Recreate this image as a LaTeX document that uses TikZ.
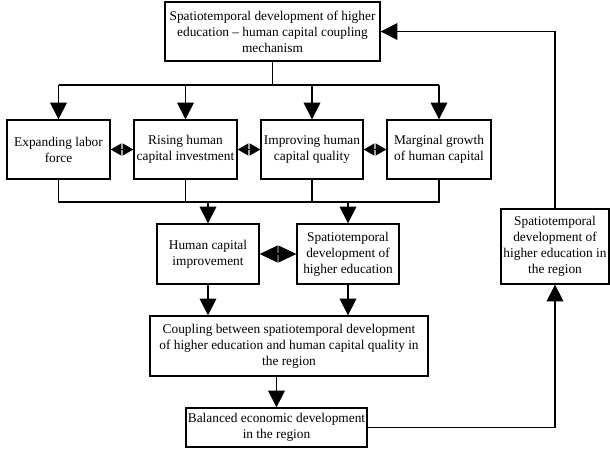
\documentclass[tikz,border=0pt]{standalone}
\usepackage{fontspec}
\setmainfont{Liberation Serif}
\usetikzlibrary{arrows.meta,positioning,calc}

\begin{document}
\begin{tikzpicture}[font=\fontsize{9.5}{11.3}\selectfont, line width=0.95pt]
    \tikzset{box/.style={draw, align=center, inner sep=1pt, minimum height=1.475cm},
             arr/.style={-{Triangle[length=0.42cm, width=0.42cm]}},
             duo/.style={{Triangle[length=0.27cm, width=0.3cm]}-{Triangle[length=0.27cm, width=0.3cm]}},
             bigduo/.style={{Triangle[length=0.45cm, width=0.42cm]}-{Triangle[length=0.45cm, width=0.42cm]}}}
    \useasboundingbox (0,0) rectangle (15.25,-11.225);
    % top
    \node[box, minimum width=5.375cm] (top) at (6.8125,-0.7875)
      {Spatiotemporal development of higher\\education -- human capital coupling\\mechanism};
    % row of four
    \node[box, minimum width=2.575cm] (lab) at (1.4625,-3.7375) {Expanding labor\\force};
    \node[box, minimum width=2.575cm] (inv) at (4.6375,-3.7375) {Rising human\\capital investment};
    \node[box, minimum width=2.55cm]  (qua) at (7.8,-3.7375)    {Improving human\\capital quality};
    \node[box, minimum width=2.6cm]   (mgh) at (10.975,-3.7375) {Marginal growth\\of human capital};
    % middle
    \node[box, minimum width=2.55cm, minimum height=1.5cm] (hci) at (5.2,-6.35) {Human capital\\improvement};
    \node[box, minimum width=2.55cm, minimum height=1.5cm] (sde) at (8.7,-6.35)
      {Spatiotemporal\\development of\\higher education};
    \node[box, minimum width=2.7cm, minimum height=1.875cm] (reg) at (13.875,-6.1625)
      {Spatiotemporal\\development of\\higher education in\\the region};
    \node[box, minimum width=6.95cm, minimum height=1.5cm] (coup) at (7.225,-8.65)
      {Coupling between spatiotemporal development\\of higher education and human capital quality in\\the region};
    \node[box, minimum width=4.525cm, minimum height=0.975cm] (bal) at (6.9125,-10.6875)
      {Balanced economic development\\in the region};
    \coordinate (fan) at (0,-2.125);
    \coordinate (jn) at (0,-5.05);

    \draw (top.south) -- (top |- fan);
    \draw (lab |- fan) -- (mgh |- fan);
    \draw[arr] (lab |- fan) -- (lab.north);
    \draw[arr] (inv |- fan) -- (inv.north);
    \draw[arr] (qua |- fan) -- (qua.north);
    \draw[arr] (mgh |- fan) -- (mgh.north);

    \draw[duo] (lab.east) -- (inv.west);
    \draw[duo] (inv.east) -- (qua.west);
    \draw[duo] (qua.east) -- (mgh.west);

    \draw (lab.south) -- (lab |- jn) -- (mgh |- jn) -- (mgh.south);
    \draw (inv.south) -- (inv |- jn);
    \draw (qua.south) -- (qua |- jn);
    \draw[arr] (hci |- jn) -- (hci.north);
    \draw[arr] (sde |- jn) -- (sde.north);

    \draw[bigduo] (hci.east) -- (sde.west);
    \draw[arr] (hci.south) -- (hci |- coup.north);
    \draw[arr] (sde.south) -- (sde |- coup.north);
    \draw[arr] (coup.south -| bal) -- (bal.north);

    \draw[arr] (bal.east) -| (reg.south);
    \draw[arr] (reg.north) |- (top.east);
  \end{tikzpicture}
\end{document}
